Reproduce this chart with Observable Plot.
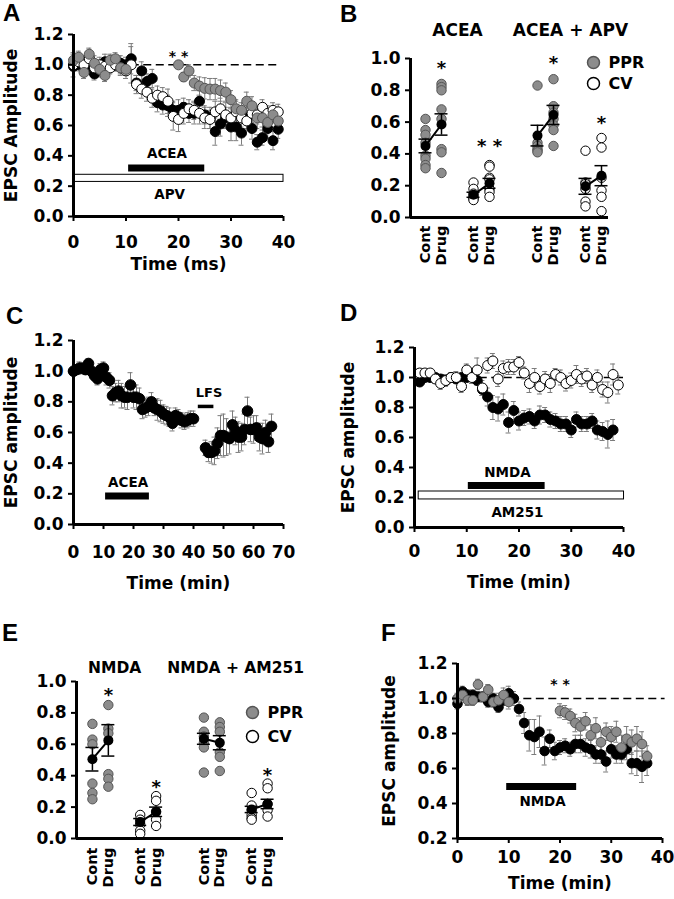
<!DOCTYPE html>
<html>
<head>
<meta charset="utf-8">
<script src="https://cdn.jsdelivr.net/npm/d3@7"></script>
<script src="https://cdn.jsdelivr.net/npm/@observablehq/plot@0.6"></script>
<style>
html,body{margin:0;padding:0;background:#fff;}
#fig{position:relative;width:674px;height:899px;overflow:hidden;background:#fff;}
.panel{position:absolute;}
.panel svg{overflow:visible;display:block;}
.letter{position:absolute;font-family:"Liberation Sans",Arial,sans-serif;font-weight:bold;font-size:24px;line-height:24px;color:#000;}
</style>
</head>
<body>
<div id="fig"></div>
<script>
// ================= DATA =================
// Panel A
const aTime = [0,1,2,3,4,5,6,7,8,9,10,11,12,13,14,15,16,17,18,19,20,21,22,23,24,25,26,27,28,29,30,31,32,33,34,35,36,37,38,39];
const aBlack = [0.99,1.00,1.01,0.98,0.94,0.99,1.02,1.01,1.00,1.01,1.00,1.04,0.88,0.96,0.89,0.91,0.75,0.735,0.73,0.70,0.70,0.72,0.68,0.68,0.76,0.67,0.65,0.56,0.61,0.65,0.59,0.59,0.55,0.65,0.58,0.49,0.52,0.58,0.50,0.575];
const aBlackErr = [0.03,0.04,0.05,0.04,0.04,0.04,0.05,0.04,0.04,0.05,0.05,0.10,0.05,0.06,0.05,0.06,0.06,0.06,0.07,0.06,0.07,0.06,0.06,0.07,0.07,0.06,0.07,0.09,0.08,0.07,0.09,0.09,0.08,0.07,0.07,0.05,0.05,0.06,0.06,0.06];
const aWhite = [1.00,1.02,1.00,1.04,0.98,1.00,0.99,0.98,1.00,0.98,0.96,1.00,0.87,0.84,0.82,0.78,0.80,0.79,0.76,0.66,0.64,0.68,0.71,0.70,0.68,0.65,0.64,0.69,0.71,0.67,0.65,0.69,0.65,0.63,0.68,0.67,0.72,0.68,0.70,0.69];
const aWhiteErr = [0.08,0.04,0.04,0.04,0.05,0.05,0.04,0.04,0.04,0.05,0.05,0.12,0.06,0.06,0.06,0.06,0.06,0.06,0.08,0.09,0.08,0.07,0.06,0.06,0.07,0.07,0.06,0.07,0.07,0.08,0.07,0.07,0.06,0.06,0.06,0.06,0.05,0.05,0.05,0.05];
const aGrayTime = [0,1,2,3,4,5,6,7,8,9,10,20,21,22,23,24,25,26,27,28,29,30,31,32,33,34,35,36,37,38,39];
const aGray = [1.03,1.05,0.95,1.07,1.01,0.97,0.93,1.03,1.04,0.98,0.97,1.00,0.92,0.96,0.88,0.86,0.845,0.84,0.84,0.83,0.82,0.77,0.71,0.70,0.76,0.73,0.65,0.65,0.62,0.67,0.63];
const aGrayErr = [0.04,0.04,0.04,0.04,0.05,0.05,0.04,0.04,0.04,0.04,0.04,0.02,0.03,0.04,0.05,0.06,0.07,0.07,0.07,0.07,0.06,0.06,0.06,0.05,0.06,0.06,0.07,0.06,0.06,0.05,0.05];
const aAceaPeriod = [10.5, 25];
const aApvPeriod = [0.2, 40];
const aXTicks = [0,10,20,30,40];
const aYTicks = [0,0.2,0.4,0.6,0.8,1.0,1.2];

// Panel B
const bTitles = ["ACEA", "ACEA + APV"];
const bAceaPprCont = [0.62,0.55,0.52,0.47,0.39,0.37,0.33,0.31];
const bAceaPprDrug = [0.84,0.82,0.80,0.68,0.62,0.43,0.41,0.28];
const bAceaCvCont = [0.22,0.18,0.15,0.13,0.12,0.11];
const bAceaCvDrug = [0.33,0.32,0.25,0.24,0.18,0.16,0.13];
const bApvPprCont = [0.83,0.47,0.45,0.43,0.42,0.41];
const bApvPprDrug = [0.87,0.70,0.66,0.62,0.58,0.55,0.45];
const bApvCvCont = [0.42,0.22,0.21,0.18,0.10,0.07];
const bApvCvDrug = [0.50,0.44,0.25,0.17,0.13,0.04];
const bMeans = [0.45,0.585,0.143,0.215,0.515,0.645,0.196,0.263];
const bSems = [0.043,0.067,0.016,0.031,0.065,0.06,0.05,0.063];
const groupYTicks = [0,0.2,0.4,0.6,0.8,1.0];

// Panel C
const cTime = [0,1,2,3,4,5,6,7,8,9,10,11,12,13,14,15,16,17,18,19,20,21,22,23,24,25,26,27,28,29,30,31,32,33,34,35,36,37,38,39,40];
const cValues = [1.00,1.01,1.02,1.02,1.01,1.05,1.00,0.97,0.95,1.01,1.02,0.96,0.94,0.84,0.86,0.87,0.84,0.83,0.83,0.91,0.83,0.83,0.82,0.75,0.76,0.77,0.80,0.76,0.75,0.74,0.72,0.71,0.70,0.66,0.71,0.70,0.68,0.67,0.68,0.69,0.69];
const cErr = [0.02,0.03,0.04,0.03,0.03,0.03,0.03,0.03,0.04,0.04,0.04,0.05,0.05,0.06,0.06,0.07,0.08,0.07,0.08,0.08,0.07,0.08,0.07,0.06,0.06,0.06,0.06,0.05,0.07,0.07,0.06,0.06,0.06,0.05,0.05,0.05,0.05,0.05,0.05,0.05,0.05];
const cTimePost = [44,45,46,47,48,49,50,51,52,53,54,55,56,57,58,59,60,61,62,63,64,65,66];
const cValuesPost = [0.50,0.47,0.47,0.48,0.53,0.58,0.58,0.57,0.56,0.65,0.61,0.57,0.57,0.62,0.74,0.62,0.62,0.63,0.57,0.56,0.60,0.54,0.64];
const cErrPost = [0.05,0.06,0.07,0.09,0.10,0.13,0.14,0.12,0.10,0.09,0.09,0.10,0.09,0.10,0.09,0.08,0.09,0.08,0.09,0.10,0.08,0.07,0.08];
const cAceaPeriod = [10.7, 25.3];
const cLfsPeriod = [41.6, 46.8];
const cXTicks = [0,10,20,30,40,50,60,70];

// Panel D
const dBlackTime = [1,2,3,4,5,6,7,8,9,10,11,12,13,14,15,16,17,18,19,20,21,22,23,24,25,26,27,28,29,30,31,32,33,34,35,36,37,38];
const dBlack = [0.97,1.00,1.00,1.00,0.99,0.98,1.00,0.99,1.00,1.00,1.01,0.98,0.92,0.87,0.80,0.79,0.82,0.70,0.78,0.71,0.73,0.74,0.71,0.75,0.75,0.72,0.71,0.69,0.69,0.65,0.72,0.69,0.69,0.71,0.65,0.64,0.62,0.65];
const dBlackErr = [0.03,0.02,0.02,0.02,0.02,0.03,0.02,0.02,0.02,0.02,0.03,0.03,0.04,0.06,0.08,0.08,0.07,0.07,0.06,0.06,0.05,0.05,0.05,0.06,0.05,0.05,0.05,0.05,0.05,0.05,0.05,0.05,0.05,0.05,0.06,0.06,0.09,0.07];
const dWhiteTime = [1,2,3,4,5,6,7,8,9,10,11,12,13,14,15,16,17,18,19,20,21,22,23,24,25,26,27,28,29,30,31,32,33,34,35,36,37,38,39];
const dWhite = [1.03,1.03,1.03,0.99,0.96,0.98,1.00,1.00,0.94,1.05,1.00,1.05,0.93,1.08,1.11,0.99,1.06,1.07,1.07,1.10,1.03,0.96,1.00,0.94,0.99,0.96,1.02,1.00,0.96,0.98,1.02,0.99,1.01,0.95,1.00,0.92,0.90,1.02,0.95];
const dWhiteErr = [0.03,0.02,0.02,0.03,0.04,0.04,0.03,0.04,0.04,0.04,0.04,0.08,0.05,0.05,0.05,0.05,0.05,0.05,0.05,0.04,0.04,0.06,0.06,0.05,0.05,0.06,0.04,0.05,0.05,0.05,0.06,0.05,0.05,0.05,0.05,0.05,0.07,0.07,0.06];
const dNmdaPeriod = [10.3, 25];
const dAm251Period = [0.8, 40.1];

// Panel E
const eTitles = ["NMDA", "NMDA + AM251"];
const eNmdaPprCont = [0.73,0.63,0.60,0.35,0.29,0.25];
const eNmdaPprDrug = [0.85,0.70,0.67,0.41,0.38,0.33];
const eNmdaCvCont = [0.15,0.12,0.09,0.05,0.03];
const eNmdaCvDrug = [0.27,0.24,0.17,0.12,0.08];
const eAmPprCont = [0.77,0.68,0.65,0.61,0.58,0.42];
const eAmPprDrug = [0.74,0.71,0.68,0.55,0.52,0.43];
const eAmCvCont = [0.29,0.21,0.18,0.15,0.13,0.12];
const eAmCvDrug = [0.35,0.32,0.22,0.18,0.14];
const eMeans = [0.505,0.625,0.105,0.17,0.635,0.61,0.185,0.22];
const eSems = [0.075,0.10,0.022,0.03,0.035,0.045,0.02,0.03];

// Panel F
const fBlackTime = [0,1,2,3,4,5,6,7,8,9,10,11,12,13,14,15,16,17,18,19,20,21,22,23,24,25,26,27,28,29,30,31,32,33,34,35,36,37];
const fBlack = [0.97,1.04,1.02,1.02,1.01,1.01,0.98,1.00,0.95,0.99,1.03,1.00,0.94,0.86,0.79,0.78,0.81,0.70,0.77,0.70,0.72,0.73,0.71,0.74,0.74,0.72,0.71,0.68,0.68,0.64,0.71,0.68,0.68,0.71,0.63,0.63,0.61,0.63];
const fBlackErr = [0.03,0.03,0.03,0.03,0.03,0.03,0.03,0.03,0.03,0.03,0.04,0.04,0.04,0.06,0.09,0.10,0.09,0.08,0.05,0.05,0.04,0.04,0.04,0.05,0.05,0.05,0.05,0.05,0.05,0.06,0.05,0.05,0.05,0.06,0.06,0.07,0.09,0.07];
const fGrayTime = [0,1,2,3,4,5,6,7,8,9,10,20,21,22,23,24,25,26,27,28,29,30,31,32,33,34,35,36,37];
const fGray = [1.00,1.02,0.99,0.99,1.08,1.01,1.05,0.98,0.99,1.02,0.98,0.93,0.92,0.90,0.86,0.84,0.87,0.79,0.83,0.75,0.81,0.78,0.81,0.72,0.77,0.75,0.77,0.74,0.67];
const fGrayErr = [0.03,0.03,0.03,0.03,0.03,0.03,0.03,0.03,0.04,0.04,0.04,0.04,0.04,0.04,0.05,0.05,0.05,0.06,0.06,0.06,0.05,0.06,0.06,0.07,0.07,0.07,0.07,0.07,0.06];
const fNmdaPeriod = [9.6, 23.25];
const fYTicks = [0.2,0.4,0.6,0.8,1.0,1.2];

const measures = ["PPR", "CV"];
const conditions = ["Cont", "Drug"];

// ================= HELPERS =================
const FONT = "'DejaVu Sans', 'Liberation Sans', Arial, sans-serif";
const GRAY_FILL = "#8c8c8c", GRAY_STROKE = "#555", ERR = "#7c7c7c";
const fig = document.getElementById("fig");
const STYLE = {fontFamily: FONT, fontWeight: "bold", fontSize: "17px", color: "#000", background: "transparent", overflow: "visible"};

function place(node, left, top, w, h) {
  const wrap = document.createElement("div");
  wrap.className = "panel";
  Object.assign(wrap.style, {left: left + "px", top: top + "px", width: w + "px", height: h + "px"});
  wrap.appendChild(node);
  fig.appendChild(wrap);
}
function letter(ch, left, top) {
  const d = document.createElement("div");
  d.className = "letter";
  d.textContent = ch;
  Object.assign(d.style, {left: left + "px", top: top + "px"});
  fig.appendChild(d);
}
function pts(ts, vs, es) { return ts.map((t, i) => ({t, v: vs[i], e: es[i]})); }

function errMarks(data, cap = 2.5) {
  return [
    Plot.ruleX(data, {x: "t", y1: d => d.v - d.e, y2: d => d.v + d.e, stroke: ERR, strokeWidth: 1}),
    Plot.ruleY(data, {x1: "t", x2: "t", y: d => d.v + d.e, stroke: ERR, strokeWidth: 1, insetLeft: -cap, insetRight: -cap}),
    Plot.ruleY(data, {x1: "t", x2: "t", y: d => d.v - d.e, stroke: ERR, strokeWidth: 1, insetLeft: -cap, insetRight: -cap})
  ];
}
function dotMarks(data, kind, r = 5) {
  const fill = kind === "black" ? "#000" : kind === "white" ? "#fff" : GRAY_FILL;
  const stroke = kind === "gray" ? GRAY_STROKE : "#000";
  return Plot.dot(data, {x: "t", y: "v", r, fill, stroke, strokeWidth: 1});
}
function axesMarks({xDomain, yDomain, xTicks, yTicks, xPad, yTitle, yTitleDx, xTitle, xTitleDy}) {
  const m = [
    Plot.ruleX([xDomain[0]], {y1: yDomain[0], y2: yDomain[1], stroke: "#000", strokeWidth: 3}),
    Plot.ruleY([yDomain[0]], {x1: xDomain[0], x2: xDomain[1], stroke: "#000", strokeWidth: 3}),
    Plot.axisY({ticks: yTicks, tickSize: 5, tickPadding: 5, strokeWidth: 2, tickFormat: d3.format(".1f"), fontSize: 17, fontWeight: "bold", label: null})
  ];
  if (xTicks) m.push(Plot.axisX({ticks: xTicks, tickSize: 5, tickPadding: xPad, strokeWidth: 2, tickFormat: d => String(d), fontSize: 17, fontWeight: "bold", label: null}));
  if (yTitle) m.push(Plot.text([yTitle], {frameAnchor: "left", dx: yTitleDx, rotate: -90, textAnchor: "middle", lineAnchor: "middle", text: d => d, fontSize: 17, fontWeight: "bold", fill: "#000"}));
  if (xTitle) m.push(Plot.text([xTitle], {frameAnchor: "bottom", dy: xTitleDy, textAnchor: "middle", lineAnchor: "middle", text: d => d, fontSize: 17, fontWeight: "bold", fill: "#000"}));
  return m;
}
function label(txt, x, y, size = 13.5) {
  return Plot.text([txt], {x, y, text: d => d, fontSize: size, fontWeight: "bold", fill: "#000"});
}

function buildGroup(sets, means, sems) {
  const points = [], rows = [];
  sets.forEach((vals, k) => {
    const g = Math.floor(k / 4), m = Math.floor(k / 2) % 2, c = k % 2;
    const pos = g * 7 + m * 3 + c;
    vals.forEach(v => points.push({pos, v, measure: measures[m]}));
    rows.push({pos, v: means[k], e: sems[k], pair: g * 2 + m, cond: conditions[c]});
  });
  return {points, rows};
}
function groupMarks(G, {titles, titlePos, titleDy, titleSize, stars, labelDy, legend}) {
  const starRows = stars.map(s => ({pos: G.rows[s.k].pos, v: s.v, s: s.s}));
  const txt = {fontWeight: "bold", fill: "#000", lineAnchor: "middle"};
  return [
    Plot.dot(G.points.filter(d => d.measure === "PPR"), {x: "pos", y: "v", r: 4.7, fill: GRAY_FILL, stroke: GRAY_STROKE, strokeWidth: 1}),
    Plot.dot(G.points.filter(d => d.measure === "CV"), {x: "pos", y: "v", r: 4.7, fill: "#fff", stroke: "#000", strokeWidth: 1}),
    Plot.ruleX(G.rows, {x: "pos", y1: d => d.v - d.e, y2: d => d.v + d.e, stroke: "#000", strokeWidth: 1.5}),
    Plot.ruleY(G.rows, {x1: "pos", x2: "pos", y: d => d.v + d.e, stroke: "#000", strokeWidth: 1.5, insetLeft: -6.5, insetRight: -6.5}),
    Plot.ruleY(G.rows, {x1: "pos", x2: "pos", y: d => d.v - d.e, stroke: "#000", strokeWidth: 1.5, insetLeft: -6.5, insetRight: -6.5}),
    Plot.line(G.rows, {x: "pos", y: "v", z: "pair", stroke: "#000", strokeWidth: 2}),
    Plot.dot(G.rows, {x: "pos", y: "v", r: 5, fill: "#000"}),
    Plot.text(G.rows, {x: "pos", text: "cond", frameAnchor: "bottom", dy: labelDy, rotate: -90, textAnchor: "end", fontSize: 14.5, ...txt}),
    Plot.text(titles.map((t, i) => ({t, x: titlePos[i]})), {x: "x", text: "t", frameAnchor: "top", dy: titleDy, textAnchor: "middle", fontSize: titleSize, ...txt}),
    Plot.text(starRows, {x: "pos", y: "v", text: "s", fontSize: 18, ...txt}),
    Plot.dot([0], {frameAnchor: "top-right", dx: legend.dx, dy: legend.dy1, r: 6, fill: GRAY_FILL, stroke: GRAY_STROKE}),
    Plot.dot([0], {frameAnchor: "top-right", dx: legend.dx, dy: legend.dy2, r: 6, fill: "#fff", stroke: "#000"}),
    Plot.text([measures[0]], {frameAnchor: "top-right", dx: legend.tdx, dy: legend.dy1, textAnchor: "start", text: d => d, fontSize: 16, ...txt}),
    Plot.text([measures[1]], {frameAnchor: "top-right", dx: legend.tdx, dy: legend.dy2, textAnchor: "start", text: d => d, fontSize: 16, ...txt})
  ];
}

// ================= PANEL A =================
{
  const black = pts(aTime, aBlack, aBlackErr), white = pts(aTime, aWhite, aWhiteErr), gray = pts(aGrayTime, aGray, aGrayErr);
  const xDomain = [0, 40], yDomain = [0, 1.2];
  const p = Plot.plot({
    width: 330, height: 275, marginLeft: 73, marginRight: 47, marginTop: 34, marginBottom: 59,
    x: {domain: xDomain}, y: {domain: yDomain}, style: STYLE,
    marks: [
      Plot.ruleY([1], {x1: 11, x2: 39.5, stroke: "#000", strokeWidth: 1.5, strokeDasharray: "8,4.5"}),
      Plot.rect([0], {x1: aApvPeriod[0], x2: aApvPeriod[1], y1: 0.228, y2: 0.275, fill: "#fff", stroke: "#000", strokeWidth: 1}),
      Plot.ruleY([0.32], {x1: aAceaPeriod[0], x2: aAceaPeriod[1], stroke: "#000", strokeWidth: 7}),
      label("ACEA", 17.8, 0.415),
      label("APV", 18.3, 0.145),
      ...errMarks(black), ...errMarks(white), ...errMarks(gray),
      dotMarks(black, "black"), dotMarks(white, "white"), dotMarks(gray, "gray"),
      label("* *", 20, 1.055, 14),
      ...axesMarks({xDomain, yDomain, xTicks: aXTicks, yTicks: aYTicks, xPad: 14, yTitle: "EPSC Amplitude", yTitleDx: -62, xTitle: "Time (ms)", xTitleDy: 48})
    ]
  });
  place(p, 0, 0, 330, 275);
  letter("A", 3, 1);
}

// ================= PANEL B =================
{
  const G = buildGroup([bAceaPprCont, bAceaPprDrug, bAceaCvCont, bAceaCvDrug, bApvPprCont, bApvPprDrug, bApvCvCont, bApvCvDrug], bMeans, bSems);
  const xDomain = [-0.9375, 11.4375], yDomain = [0, 1];
  const p = Plot.plot({
    width: 344, height: 275, marginLeft: 80, marginRight: 66, marginTop: 58, marginBottom: 58,
    x: {domain: xDomain, axis: null}, y: {domain: yDomain}, style: STYLE,
    marks: [
      ...groupMarks(G, {
        titles: bTitles, titlePos: [2, 9.06], titleDy: -28, titleSize: 17,
        stars: [{k: 1, s: "*", v: 0.94}, {k: 3, s: "* *", v: 0.45}, {k: 5, s: "*", v: 0.97}, {k: 7, s: "*", v: 0.59}],
        labelDy: 8, legend: {dx: -15, dy1: 4, dy2: 25, tdx: 0}
      }),
      ...axesMarks({xDomain, yDomain, yTicks: groupYTicks})
    ]
  });
  place(p, 330, 0, 344, 275);
  letter("B", 340, 2);
}

// ================= PANEL C =================
{
  const pre = pts(cTime, cValues, cErr), post = pts(cTimePost, cValuesPost, cErrPost);
  const xDomain = [0, 70], yDomain = [0, 1.2];
  const p = Plot.plot({
    width: 330, height: 310, marginLeft: 73, marginRight: 47, marginTop: 50, marginBottom: 76,
    x: {domain: xDomain}, y: {domain: yDomain}, style: STYLE,
    marks: [
      Plot.ruleY([0.186], {x1: cAceaPeriod[0], x2: cAceaPeriod[1], stroke: "#000", strokeWidth: 7}),
      label("ACEA", 18.2, 0.27),
      Plot.ruleY([0.77], {x1: cLfsPeriod[0], x2: cLfsPeriod[1], stroke: "#000", strokeWidth: 3.5}),
      label("LFS", 45.2, 0.86, 13),
      ...errMarks(pre), ...errMarks(post),
      dotMarks(pre, "black", 5.3), dotMarks(post, "black", 5.3),
      ...axesMarks({xDomain, yDomain, xTicks: cXTicks, yTicks: aYTicks, xPad: 16, yTitle: "EPSC amplitude", yTitleDx: -62, xTitle: "Time (min)", xTitleDy: 59})
    ]
  });
  place(p, 0, 290, 330, 310);
  letter("C", 6, 304);
}

// ================= PANEL D =================
{
  const black = pts(dBlackTime, dBlack, dBlackErr), white = pts(dWhiteTime, dWhite, dWhiteErr);
  const xDomain = [0, 40], yDomain = [0, 1.2];
  const p = Plot.plot({
    width: 344, height: 310, marginLeft: 84, marginRight: 51, marginTop: 57, marginBottom: 73,
    x: {domain: xDomain}, y: {domain: yDomain}, style: STYLE,
    marks: [
      Plot.ruleY([1], {x1: 10, x2: 40, stroke: "#000", strokeWidth: 1.5, strokeDasharray: "8,4.5"}),
      Plot.rect([0], {x1: dAm251Period[0], x2: dAm251Period[1], y1: 0.187, y2: 0.24, fill: "#fff", stroke: "#000", strokeWidth: 1}),
      Plot.ruleY([0.28], {x1: dNmdaPeriod[0], x2: dNmdaPeriod[1], stroke: "#000", strokeWidth: 7}),
      label("NMDA", 17.8, 0.367),
      label("AM251", 19.7, 0.10),
      ...errMarks(black), ...errMarks(white),
      dotMarks(black, "black"), dotMarks(white, "white"),
      ...axesMarks({xDomain, yDomain, xTicks: aXTicks, yTicks: aYTicks, xPad: 12, yTitle: "EPSC amplitude", yTitleDx: -66, xTitle: "Time (min)", xTitleDy: 55})
    ]
  });
  place(p, 330, 290, 344, 310);
  letter("D", 340, 301);
}

// ================= PANEL E =================
{
  const G = buildGroup([eNmdaPprCont, eNmdaPprDrug, eNmdaCvCont, eNmdaCvDrug, eAmPprCont, eAmPprDrug, eAmCvCont, eAmCvDrug], eMeans, eSems);
  const xDomain = [-1, 12], yDomain = [0, 1];
  const p = Plot.plot({
    width: 330, height: 299, marginLeft: 76, marginRight: 47, marginTop: 81, marginBottom: 61,
    x: {domain: xDomain, axis: null}, y: {domain: yDomain}, style: STYLE,
    marks: [
      ...groupMarks(G, {
        titles: eTitles, titlePos: [1.4, 9], titleDy: -13, titleSize: 15.5,
        stars: [{k: 1, s: "*", v: 0.91}, {k: 3, s: "*", v: 0.325}, {k: 7, s: "*", v: 0.40}],
        labelDy: 9, legend: {dx: -31, dy1: 31, dy2: 55, tdx: -16}
      }),
      ...axesMarks({xDomain, yDomain, yTicks: groupYTicks})
    ]
  });
  place(p, 0, 600, 330, 299);
  letter("E", 2, 621);
}

// ================= PANEL F =================
{
  const black = pts(fBlackTime, fBlack, fBlackErr), gray = pts(fGrayTime, fGray, fGrayErr);
  const xDomain = [0, 40], yDomain = [0.2, 1.2];
  const p = Plot.plot({
    width: 344, height: 299, marginLeft: 127, marginRight: 12, marginTop: 63, marginBottom: 61,
    x: {domain: xDomain}, y: {domain: yDomain}, style: STYLE,
    marks: [
      Plot.ruleY([1], {x1: 10.5, x2: 40.5, stroke: "#000", strokeWidth: 1.5, strokeDasharray: "8,4.5"}),
      Plot.ruleY([0.497], {x1: fNmdaPeriod[0], x2: fNmdaPeriod[1], stroke: "#000", strokeWidth: 7}),
      label("NMDA", 16.6, 0.41),
      ...errMarks(black), ...errMarks(gray),
      dotMarks(black, "black", 4.8), dotMarks(gray, "gray", 4.8),
      label("* *", 20, 1.08, 14),
      ...axesMarks({xDomain, yDomain, xTicks: aXTicks, yTicks: fYTicks, xPad: 7, yTitle: "EPSC amplitude", yTitleDx: -68, xTitle: "Time (min)", xTitleDy: 45})
    ]
  });
  place(p, 330, 600, 344, 299);
  letter("F", 381, 621);
}
</script>
</body>
</html>
